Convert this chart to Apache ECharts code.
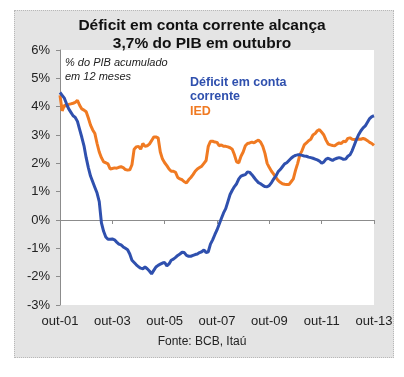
<!DOCTYPE html>
<html>
<head>
<meta charset="utf-8">
<script src="https://cdn.jsdelivr.net/npm/echarts@6/dist/echarts.min.js"></script>
<style>
    html, body { margin: 0; padding: 0; background: #fff; }
    #panel {
        position: absolute; left: 14px; top: 10px; width: 378px; height: 346px;
        background: #e4e4e4; border: 1px dotted #b8b8b8;
    }
    #chart { position: absolute; left: 0; top: 0; width: 404px; height: 377px; }
</style>
</head>
<body>
<div id="panel"></div>
<div id="chart"></div>
<script>
// meses out-01 .. out-13
const monthNames = ['jan', 'fev', 'mar', 'abr', 'mai', 'jun', 'jul', 'ago', 'set', 'out', 'nov', 'dez']
const startYear = 2001
const startMonth = 9 // out
const monthCount = 145

const yTicks = [-3, -2, -1, 0, 1, 2, 3, 4, 5, 6]

// Déficit em conta corrente, % do PIB acumulado em 12 meses
const deficit = [
    4.50, 4.40, 4.30, 4.10, 3.92, 3.80, 3.68, 3.62, 3.48, 3.20,
    2.92, 2.62, 2.20, 1.85, 1.55, 1.35, 1.15, 0.95, 0.65, -0.10,
    -0.40, -0.60, -0.68, -0.68, -0.67, -0.70, -0.78, -0.85, -0.88, -0.95,
    -1.00, -1.05, -1.20, -1.42, -1.50, -1.58, -1.65, -1.70, -1.72, -1.66,
    -1.72, -1.80, -1.90, -1.78, -1.66, -1.60, -1.56, -1.52, -1.50, -1.62,
    -1.55, -1.42, -1.38, -1.32, -1.25, -1.20, -1.14, -1.15, -1.25, -1.28,
    -1.28, -1.25, -1.22, -1.20, -1.15, -1.12, -1.06, -1.15, -1.12, -0.85,
    -0.70, -0.52, -0.35, -0.15, 0.05, 0.25, 0.40, 0.65, 0.90, 1.05,
    1.18, 1.28, 1.45, 1.55, 1.58, 1.60, 1.70, 1.68, 1.60, 1.50,
    1.40, 1.32, 1.28, 1.22, 1.18, 1.17, 1.22, 1.32, 1.45, 1.55,
    1.70, 1.78, 1.88, 1.98, 2.02, 2.10, 2.18, 2.24, 2.28, 2.30,
    2.30, 2.28, 2.26, 2.25, 2.22, 2.20, 2.18, 2.15, 2.12, 2.08,
    2.00, 2.05, 2.15, 2.18, 2.14, 2.10, 2.15, 2.18, 2.20, 2.18,
    2.14, 2.15, 2.25, 2.30, 2.45, 2.65, 2.85, 3.02, 3.15, 3.25,
    3.32, 3.45, 3.58, 3.65, 3.68
]

// IED, % do PIB acumulado em 12 meses
const ied = [
    4.40, 3.85, 4.05, 4.02, 4.08, 4.10, 4.12, 4.15, 4.22, 4.05,
    3.92, 3.88, 3.82, 3.60, 3.35, 3.18, 3.05, 2.70, 2.40, 2.20,
    2.05, 2.02, 1.98, 1.80, 1.82, 1.84, 1.83, 1.86, 1.88, 1.85,
    1.78, 1.76, 1.77, 1.95, 2.50, 2.58, 2.60, 2.50, 2.70, 2.60,
    2.62, 2.68, 2.80, 2.93, 2.93, 2.90, 2.40, 2.15, 2.02, 1.92,
    1.80, 1.72, 1.72, 1.68, 1.50, 1.45, 1.42, 1.35, 1.31, 1.42,
    1.50, 1.60, 1.72, 1.80, 1.85, 1.90, 2.00, 2.10, 2.60, 2.78,
    2.78, 2.75, 2.74, 2.62, 2.65, 2.60, 2.60, 2.58, 2.55, 2.50,
    2.30, 2.05, 2.02, 2.25, 2.40, 2.62, 2.70, 2.72, 2.75, 2.72,
    2.78, 2.82, 2.75, 2.60, 2.35, 2.00, 1.85, 1.72, 1.62, 1.50,
    1.40, 1.33, 1.28, 1.26, 1.25, 1.25, 1.35, 1.45, 1.75, 2.00,
    2.30, 2.45, 2.65, 2.72, 2.80, 2.85, 3.00, 3.05, 3.15, 3.19,
    3.10, 3.00, 2.82, 2.68, 2.65, 2.63, 2.62, 2.68, 2.72, 2.70,
    2.78, 2.76, 2.88, 2.90, 2.85, 2.84, 2.85, 2.86, 2.85, 2.88,
    2.85, 2.80, 2.74, 2.70, 2.63
]

const categories = []
for (let i = 0; i < monthCount; i++) {
    const m = (startMonth + i) % 12
    const y = startYear + Math.floor((startMonth + i) / 12)
    categories.push(monthNames[m] + '-' + String(y % 100).padStart(2, '0'))
}

const blue = '#2f50ae'
const orange = '#f07a22'
const axisGrey = '#8c8c8c'
const font = 'Arial, "Liberation Sans", sans-serif'

const chart = echarts.init(document.getElementById('chart'))

chart.setOption({
    animation: false,
    title: {
        text: 'Déficit em conta corrente alcança\n3,7% do PIB em outubro',
        left: 'center',
        top: 12,
        textStyle: {
            fontFamily: font,
            fontSize: 15.5,
            fontWeight: 'bold',
            color: '#111',
            lineHeight: 18
        }
    },
    grid: {
        left: 60,
        right: 30,
        top: 50,
        bottom: 72,
        show: true,
        backgroundColor: '#fff',
        borderWidth: 0
    },
    xAxis: [
        {
            // rótulos embaixo
            type: 'category',
            data: categories,
            boundaryGap: false,
            position: 'bottom',
            axisLine: { show: false, onZero: false },
            axisTick: { show: false },
            axisLabel: {
                interval: 23,
                margin: 10,
                fontFamily: font,
                fontSize: 13,
                color: '#222'
            }
        },
        {
            // linha do zero com marcas
            type: 'category',
            data: categories,
            boundaryGap: false,
            position: 'bottom',
            axisLine: { show: true, onZero: true, onZeroAxisIndex: 0, lineStyle: { color: axisGrey, width: 1 } },
            axisTick: { show: true, interval: 23, length: 4, lineStyle: { color: axisGrey, width: 1 } },
            axisLabel: { show: false }
        }
    ],
    yAxis: {
        type: 'value',
        min: yTicks[0],
        max: yTicks[yTicks.length - 1],
        interval: 1,
        axisLine: { show: true, lineStyle: { color: axisGrey } },
        axisTick: { show: true, length: 4, lineStyle: { color: axisGrey } },
        axisLabel: {
            formatter: '{value}%',
            margin: 10,
            fontFamily: font,
            fontSize: 13,
            color: '#222'
        },
        splitLine: { show: false }
    },
    graphic: [
        {
            type: 'text',
            left: 65,
            top: 56,
            style: {
                text: '% do PIB acumulado\nem 12 meses',
                font: 'italic 11px ' + font,
                fill: '#222',
                lineHeight: 14
            }
        },
        {
            type: 'text',
            left: 190,
            top: 76,
            style: {
                text: 'Déficit em conta\ncorrente',
                font: 'bold 12.5px ' + font,
                fill: blue,
                lineHeight: 14
            }
        },
        {
            type: 'text',
            left: 190,
            top: 105,
            style: {
                text: 'IED',
                font: 'bold 12.5px ' + font,
                fill: orange
            }
        },
        {
            type: 'text',
            left: 'center',
            top: 336,
            style: {
                text: 'Fonte: BCB, Itaú',
                font: '12px ' + font,
                fill: '#222'
            }
        }
    ],
    series: [
        {
            name: 'IED',
            type: 'line',
            data: ied,
            symbol: 'none',
            lineStyle: { color: orange, width: 3 }
        },
        {
            name: 'Déficit em conta corrente',
            type: 'line',
            data: deficit,
            symbol: 'none',
            lineStyle: { color: blue, width: 3 }
        }
    ]
})
</script>
</body>
</html>
